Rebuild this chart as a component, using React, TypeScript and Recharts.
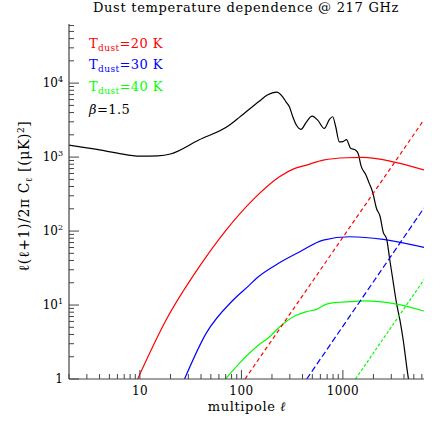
import { LineChart, Line, XAxis, YAxis } from 'recharts';

// multipole values (l) and D_l values
const cmbL = [2, 4, 6, 10, 15, 20, 38, 76, 96, 150, 180, 222, 255, 275, 297, 321, 348, 386, 438, 497, 565, 656, 735, 794, 850, 922, 1000, 1085, 1190, 1330, 1420, 1510, 1670, 1820, 1960, 2150, 2320, 2500, 2700, 2900, 3130, 3380, 3650, 3930, 4300, 4450];
const cmbV = [1450, 1250, 1130, 1030, 1040, 1100, 1700, 2700, 3470, 5700, 6890, 7560, 6530, 5590, 4790, 3510, 2710, 2370, 3000, 3580, 3160, 2440, 3220, 3510, 2570, 1610, 1620, 1720, 1320, 1250, 1100, 760, 589, 441, 340, 200, 160, 96, 78, 40.6, 20.6, 10.5, 6.27, 3.37, 1.32, 0.95];

const red20L = [9.5, 18.1, 38.5, 70.7, 129, 237, 336, 438, 640, 1090, 1580, 3130, 6300];
const red20V = [1, 6.27, 33, 103, 262, 542, 703, 780, 911, 980, 990, 864, 670];

const blue30L = [27.5, 44.9, 83, 120, 141, 239, 377, 640, 1170, 2500, 6300];
const blue30V = [1, 4.14, 11.7, 18.6, 23, 37.5, 52.6, 75.5, 83.8, 77.2, 60];

const green40L = [69.6, 95.5, 141, 190, 239, 325, 438, 550, 690, 922, 1170, 1580, 3380, 6300];
const green40V = [1, 1.63, 2.73, 3.73, 5.09, 6.95, 8.12, 8.75, 10.3, 10.9, 11.1, 11.4, 10.3, 8.3];

// power-law (dashed) pieces
const red20DashL = [108.7, 6300];
const red20DashV = [1, 3200];
const blue30DashL = [440, 6300];
const blue30DashV = [1, 205];
const green40DashL = [1330, 6300];
const green40DashV = [1, 22];

const xTicks = [2, 3, 4, 5, 6, 7, 8, 9, 10, 20, 30, 40, 50, 60, 70, 80, 90, 100, 200, 300, 400, 500, 600, 700, 800, 900, 1000, 2000, 3000, 4000, 5000, 6000];
const xMajor = [10, 100, 1000];
const yTicks = [1, 2, 3, 4, 5, 6, 7, 8, 9, 10, 20, 30, 40, 50, 60, 70, 80, 90, 100, 200, 300, 400, 500, 600, 700, 800, 900, 1000, 2000, 3000, 4000, 5000, 6000, 7000, 8000, 9000, 10000, 20000, 30000, 40000, 50000, 60000];
const yMajor = [1, 10, 100, 1000, 10000];
const yExp = ['', '1', '2', '3', '4'];

const toRows = (ls: number[], vs: number[]) => ls.map((l, i) => ({ l, v: vs[i] }));

const FONT = 'DejaVu Serif';
const AXIS = '#444';

const BottomTick = (props: any) => {
  const { x, y, payload } = props;
  const major = xMajor.includes(payload.value);
  return (
    <g>
      <line x1={x} y1={y} x2={x} y2={y - (major ? 9 : 5)} stroke={AXIS} strokeWidth={1} />
      {major && (
        <text x={x} y={y + 16} textAnchor="middle" fontFamily={FONT} fontSize={12} letterSpacing={0.4} fill="#000">
          {payload.value}
        </text>
      )}
    </g>
  );
};

const TopTick = (props: any) => {
  const { x, y, payload } = props;
  const major = xMajor.includes(payload.value);
  return <line x1={x} y1={y} x2={x} y2={y + (major ? 9 : 5)} stroke={AXIS} strokeWidth={1} />;
};

const LeftTick = (props: any) => {
  const { x, y, payload } = props;
  const idx = yMajor.indexOf(payload.value);
  const major = idx >= 0;
  return (
    <g>
      <line x1={x} y1={y} x2={x + (major ? 10 : 5)} y2={y} stroke={AXIS} strokeWidth={1} />
      {major && (
        <text x={x - 6} y={y + 4} textAnchor="end" fontFamily={FONT} fontSize={12} fill="#000">
          {idx === 0 ? '1' : '10'}
          {idx > 0 && (
            <tspan dy={-5} fontSize={8}>
              {yExp[idx]}
            </tspan>
          )}
        </text>
      )}
    </g>
  );
};

const RightTick = (props: any) => {
  const { x, y, payload } = props;
  const major = yMajor.includes(payload.value);
  return <line x1={x} y1={y} x2={x - (major ? 10 : 5)} y2={y} stroke={AXIS} strokeWidth={1} />;
};

const LegendLine = ({ y, color, temp }: { y: number; color: string; temp: string }) => (
  <text x={89} y={y} fontFamily={FONT} fontSize={13} letterSpacing={0.4} fill={color}>
    T
    <tspan dy={3} fontSize={9}>dust</tspan>
    <tspan dy={-3}>{`=${temp} K`}</tspan>
  </text>
);

export default function App() {
  return (
    <div style={{ position: 'absolute', left: 0, top: 0, width: 447, height: 447, background: '#fff' }}>
      <LineChart width={447} height={447} margin={{ top: 24, right: 23, bottom: 38, left: 0 }}>
        <XAxis
          dataKey="l"
          type="number"
          scale="log"
          domain={[2, 6300]}
          allowDataOverflow
          ticks={xTicks}
          interval={0}
          tickSize={0}
          tickMargin={0}
          tickLine={false}
          height={30}
          axisLine={{ stroke: AXIS, strokeWidth: 1.2 }}
          tick={<BottomTick />}
        />
        <XAxis
          xAxisId="top"
          orientation="top"
          dataKey="l"
          type="number"
          scale="log"
          domain={[2, 6300]}
          allowDataOverflow
          ticks={xTicks}
          interval={0}
          tickSize={0}
          tickMargin={0}
          tickLine={false}
          height={0}
          axisLine={{ stroke: AXIS, strokeWidth: 1.2 }}
          tick={<TopTick />}
        />
        <YAxis
          type="number"
          scale="log"
          domain={[1, 63000]}
          allowDataOverflow
          ticks={yTicks}
          interval={0}
          tickSize={0}
          tickMargin={0}
          tickLine={false}
          width={69}
          axisLine={{ stroke: AXIS, strokeWidth: 1.2 }}
          tick={<LeftTick />}
        />
        <YAxis
          yAxisId="right"
          orientation="right"
          type="number"
          scale="log"
          domain={[1, 63000]}
          allowDataOverflow
          ticks={yTicks}
          interval={0}
          tickSize={0}
          tickMargin={0}
          tickLine={false}
          width={0}
          axisLine={{ stroke: AXIS, strokeWidth: 1.2 }}
          tick={<RightTick />}
        />
        <Line data={toRows(cmbL, cmbV)} dataKey="v" type="monotone" stroke="#000" strokeWidth={1.2} dot={false} isAnimationActive={false} />
        <Line data={toRows(red20L, red20V)} dataKey="v" type="monotone" stroke="#ff0000" strokeWidth={1.2} dot={false} isAnimationActive={false} />
        <Line data={toRows(blue30L, blue30V)} dataKey="v" type="monotone" stroke="#0000ff" strokeWidth={1.2} dot={false} isAnimationActive={false} />
        <Line data={toRows(green40L, green40V)} dataKey="v" type="monotone" stroke="#00ff00" strokeWidth={1.2} dot={false} isAnimationActive={false} />
        <Line data={toRows(red20DashL, red20DashV)} dataKey="v" type="linear" stroke="#ff0000" strokeWidth={1.2} strokeDasharray="4 3" dot={false} isAnimationActive={false} />
        <Line data={toRows(blue30DashL, blue30DashV)} dataKey="v" type="linear" stroke="#0000ff" strokeWidth={1.2} strokeDasharray="6 3" dot={false} isAnimationActive={false} />
        <Line data={toRows(green40DashL, green40DashV)} dataKey="v" type="linear" stroke="#00ff00" strokeWidth={1.2} strokeDasharray="3 2" dot={false} isAnimationActive={false} />

        <text x={246} y={12} textAnchor="middle" fontFamily={FONT} fontSize={13} letterSpacing={0.7} fill="#000">
          Dust temperature dependence @ 217 GHz
        </text>
        <LegendLine y={48} color="#ff0000" temp="20" />
        <LegendLine y={69} color="#0000ff" temp="30" />
        <LegendLine y={91} color="#00ff00" temp="40" />
        <text x={89} y={114} fontFamily={FONT} fontSize={13} letterSpacing={0.4} fill="#000">
          <tspan fontStyle="italic">β</tspan>=1.5
        </text>
        <text x={247} y={411} textAnchor="middle" fontFamily={FONT} fontSize={13} letterSpacing={0.6} fill="#000">
          multipole <tspan fontStyle="italic">ℓ</tspan>
        </text>
        <text transform="translate(29,196) rotate(-90)" textAnchor="middle" fontFamily={FONT} fontSize={14} letterSpacing={0.6} fill="#000">
          ℓ(ℓ+1)/2π C<tspan dy={3} fontSize={9}>ℓ</tspan>
          <tspan dy={-3}> [(μK)</tspan>
          <tspan dy={-5} fontSize={9}>2</tspan>
          <tspan dy={5}>]</tspan>
        </text>
      </LineChart>
    </div>
  );
}
